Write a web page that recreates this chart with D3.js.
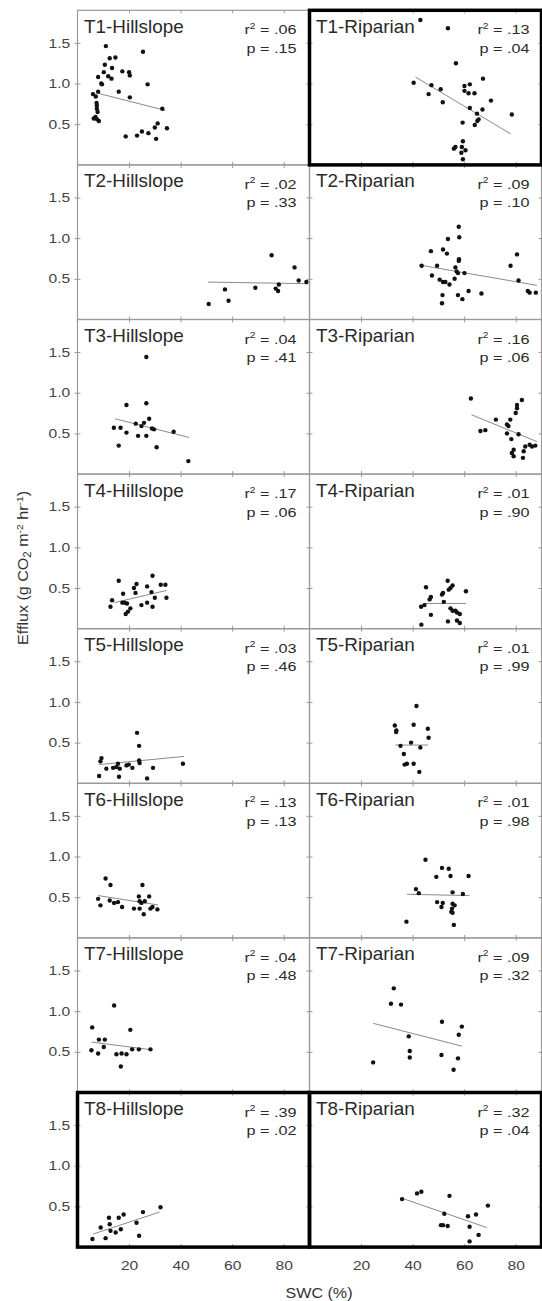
<!DOCTYPE html>
<html><head><meta charset="utf-8">
<script src="https://cdn.jsdelivr.net/npm/d3@7"></script>
<style>html,body{margin:0;padding:0;background:#fff;} svg{display:block;font-family:"Liberation Sans",Arial,Helvetica,sans-serif;}</style>
</head><body><svg id="c" width="542" height="1301"></svg>
<script>
// ---------------- DATA ----------------
const transects = ["T1","T2","T3","T4","T5","T6","T7","T8"];
const sites = ["Hillslope","Riparian"];
const xTicks = [20,40,60,80];
const yTicks = [0.5,1.0,1.5];

// [SWC (%), Efflux] per transect
const hillslopePoints = [
  [[11.0,1.46],[12.5,1.31],[14.7,1.32],[10.6,1.23],[13.4,1.19],[10.2,1.14],[11.9,1.09],[13.2,1.06],[8.0,1.08],[9.2,1.00],[9.5,0.99],[17.4,1.15],[20.0,1.14],[20.3,1.10],[25.4,1.39],[27.2,0.99],[16.0,0.90],[20.3,0.83],[6.0,0.87],[7.1,0.84],[8.0,0.90],[7.4,0.76],[7.5,0.73],[7.5,0.69],[7.8,0.65],[7.0,0.59],[7.6,0.56],[8.3,0.54],[6.3,0.57],[18.7,0.35],[23.1,0.36],[25.0,0.41],[27.5,0.39],[30.0,0.46],[31.1,0.51],[30.5,0.32],[32.9,0.69],[34.7,0.45]],
  [[50.9,0.19],[57.2,0.37],[58.6,0.23],[69.0,0.39],[75.3,0.79],[76.9,0.38],[77.8,0.35],[78.1,0.43],[84.2,0.64],[85.8,0.48],[88.8,0.46]],
  [[26.7,1.44],[19.0,0.85],[26.7,0.87],[14.1,0.57],[16.7,0.57],[19.0,0.51],[22.6,0.62],[24.8,0.59],[25.8,0.63],[27.8,0.68],[28.9,0.56],[29.7,0.55],[23.5,0.47],[26.7,0.47],[37.3,0.52],[16.0,0.35],[30.7,0.33],[43.0,0.16]],
  [[16.0,0.59],[29.1,0.65],[22.9,0.55],[21.9,0.50],[27.0,0.52],[32.3,0.54],[34.1,0.54],[17.7,0.43],[22.5,0.44],[28.7,0.45],[30.0,0.38],[34.5,0.38],[13.4,0.35],[12.8,0.27],[17.4,0.32],[18.3,0.32],[19.2,0.31],[20.5,0.25],[19.6,0.21],[18.7,0.18],[24.8,0.29],[27.0,0.32],[29.1,0.27]],
  [[23.1,0.62],[23.9,0.46],[9.3,0.31],[8.9,0.27],[23.9,0.28],[24.1,0.25],[15.7,0.24],[19.0,0.22],[19.9,0.23],[11.2,0.18],[13.8,0.19],[15.1,0.20],[16.4,0.18],[21.3,0.19],[29.3,0.19],[40.9,0.24],[8.4,0.09],[16.1,0.08],[27.0,0.06]],
  [[10.9,0.73],[12.8,0.65],[25.2,0.65],[23.8,0.51],[27.8,0.51],[8.0,0.48],[12.5,0.46],[14.2,0.43],[15.7,0.44],[24.1,0.45],[24.8,0.43],[26.1,0.45],[8.9,0.40],[17.3,0.38],[21.9,0.36],[24.1,0.36],[28.3,0.36],[29.1,0.38],[31.0,0.35],[25.7,0.29]],
  [[14.2,1.07],[5.7,0.80],[20.5,0.77],[8.3,0.65],[10.6,0.65],[10.2,0.56],[5.4,0.52],[8.0,0.48],[15.1,0.47],[17.1,0.48],[19.0,0.47],[21.2,0.53],[23.8,0.53],[28.3,0.53],[16.8,0.32]],
  [[32.2,0.49],[25.4,0.43],[12.2,0.36],[16.0,0.36],[17.9,0.40],[22.9,0.30],[12.5,0.28],[9.0,0.24],[12.8,0.20],[14.8,0.18],[16.8,0.22],[23.9,0.14],[5.8,0.10],[10.9,0.11]]
];
const riparianPoints = [
  [[43.0,1.78],[53.7,1.68],[56.8,1.25],[40.4,1.01],[47.3,0.98],[46.2,0.87],[50.9,0.93],[51.7,0.77],[60.1,0.97],[62.2,0.99],[60.1,0.91],[61.7,0.88],[64.0,0.88],[67.3,1.06],[70.4,0.79],[62.2,0.70],[67.1,0.68],[65.0,0.63],[65.6,0.56],[65.1,0.54],[64.1,0.49],[59.4,0.52],[78.5,0.62],[59.5,0.29],[56.6,0.22],[56.0,0.20],[59.1,0.22],[60.5,0.18],[58.9,0.15],[59.5,0.07]],
  [[57.9,1.14],[58.1,1.01],[53.7,0.99],[47.1,0.84],[51.8,0.86],[53.3,0.81],[58.0,0.74],[57.9,0.72],[56.6,0.64],[43.5,0.66],[49.5,0.66],[57.1,0.59],[57.6,0.57],[60.1,0.57],[47.5,0.54],[50.5,0.49],[51.8,0.46],[52.7,0.46],[54.3,0.43],[56.3,0.50],[51.6,0.30],[51.4,0.20],[57.6,0.30],[59.3,0.25],[61.7,0.35],[66.7,0.32],[80.5,0.80],[78.0,0.66],[81.1,0.48],[84.7,0.35],[85.4,0.33],[87.8,0.33]],
  [[62.6,0.93],[82.4,0.91],[80.5,0.85],[80.5,0.81],[80.0,0.75],[77.9,0.67],[72.3,0.67],[76.6,0.61],[77.2,0.59],[66.3,0.53],[68.2,0.54],[76.6,0.50],[81.1,0.49],[78.3,0.43],[85.4,0.36],[86.3,0.34],[87.6,0.35],[83.7,0.34],[79.2,0.30],[78.5,0.26],[83.1,0.28],[82.8,0.20],[79.2,0.22]],
  [[53.6,0.59],[55.5,0.53],[54.7,0.50],[54.0,0.48],[45.2,0.51],[51.8,0.44],[51.4,0.42],[60.7,0.46],[47.1,0.39],[46.6,0.36],[44.6,0.29],[43.3,0.27],[52.1,0.33],[54.7,0.25],[55.5,0.22],[56.6,0.22],[58.3,0.18],[57.2,0.20],[47.1,0.17],[53.7,0.09],[57.2,0.10],[58.3,0.07],[43.4,0.05]],
  [[41.5,0.95],[33.1,0.71],[33.7,0.65],[33.6,0.63],[40.4,0.72],[45.9,0.67],[46.2,0.56],[35.3,0.46],[39.4,0.50],[43.0,0.44],[36.6,0.36],[36.9,0.23],[37.8,0.24],[40.4,0.24],[42.6,0.14]],
  [[45.0,0.96],[51.4,0.86],[54.0,0.85],[49.2,0.75],[54.7,0.76],[61.7,0.76],[41.3,0.60],[42.4,0.55],[55.5,0.56],[59.5,0.54],[49.5,0.44],[51.7,0.43],[51.2,0.38],[55.5,0.42],[56.3,0.40],[55.3,0.36],[55.0,0.32],[55.5,0.31],[37.6,0.20],[56.0,0.16]],
  [[32.7,1.28],[31.6,1.09],[35.5,1.08],[51.4,0.87],[59.1,0.81],[57.9,0.71],[38.5,0.69],[38.9,0.51],[51.2,0.46],[38.9,0.43],[57.6,0.42],[24.7,0.37],[55.9,0.28]],
  [[35.9,0.59],[41.7,0.66],[43.4,0.68],[54.3,0.63],[52.3,0.41],[69.2,0.51],[61.5,0.38],[64.6,0.40],[51.0,0.27],[51.8,0.27],[53.6,0.26],[62.1,0.25],[65.6,0.15],[62.1,0.07]]
];
// regression line end points [x1, y1, x2, y2]
const hillslopeFit = [[8.0,0.88,34.0,0.67],[50.6,0.46,89.4,0.44],[14.5,0.68,43.3,0.45],[14.2,0.32,34.5,0.47],[8.4,0.23,41.3,0.33],[8.0,0.52,31.2,0.405],[5.4,0.62,28.7,0.525],[6.0,0.16,31.8,0.43]];
const riparianFit  = [[41.1,1.08,78.1,0.38],[42.6,0.67,88.2,0.42],[62.8,0.73,88.2,0.40],[44.3,0.31,60.7,0.31],[33.3,0.47,46.0,0.47],[37.8,0.536,62.0,0.52],[24.7,0.85,59.1,0.57],[35.9,0.60,68.8,0.24]];
const hillslopeR2 = [".06",".02",".04",".17",".03",".13",".04",".39"];
const hillslopeP  = [".15",".33",".41",".06",".46",".13",".48",".02"];
const riparianR2  = [".13",".09",".16",".01",".01",".01",".09",".32"];
const riparianP   = [".04",".10",".06",".90",".99",".98",".32",".04"];
const highlighted = ["T1-Riparian","T8-Hillslope","T8-Riparian"];

// ---------------- LAYOUT ----------------
const colX = [77.5, 309.5], colW = 232, top0 = 10.3, rowH = 154.6;
const x = d3.scaleLinear().domain([0,90]).range([0,colW]);
const y = d3.scaleLinear().domain([0,1.9]).range([rowH,0]);
const svg = d3.select("#c");
const gridCol = "#9a9a9a";

function stext(g, px, py, sx, size, anchor, fill){
  return g.append("text")
    .attr("transform", `translate(${px},${py}) scale(${sx},1)`)
    .attr("text-anchor", anchor).attr("font-size", size).attr("fill", fill);
}

const thick = [];
transects.forEach((t, r) => {
  sites.forEach((s, c) => {
    const pts = c === 0 ? hillslopePoints[r] : riparianPoints[r];
    const fit = c === 0 ? hillslopeFit[r] : riparianFit[r];
    const r2 = c === 0 ? hillslopeR2[r] : riparianR2[r];
    const p  = c === 0 ? hillslopeP[r]  : riparianP[r];
    const g = svg.append("g").attr("transform", `translate(${colX[c]},${top0 + r*rowH})`);

    g.append("rect").attr("x",0).attr("y",0).attr("width",colW).attr("height",rowH)
      .attr("fill","none").attr("stroke",gridCol).attr("stroke-width",1.2);

    // inward ticks on all edges
    const tickAxes = [
      [d3.axisTop(x).tickValues(xTicks), 0, 0],
      [d3.axisBottom(x).tickValues(xTicks), 0, rowH],
      [d3.axisLeft(y).tickValues(yTicks), 0, 0],
      [d3.axisRight(y).tickValues(yTicks), colW, 0]
    ];
    tickAxes.forEach(([ax, tx, ty]) => {
      const a = g.append("g").attr("transform", `translate(${tx},${ty})`)
        .call(ax.tickSize(-3).tickFormat(""));
      a.select(".domain").remove();
      a.selectAll("line").attr("stroke", gridCol);
    });

    // left axis labels
    if (c === 0) {
      const a = g.append("g").call(d3.axisLeft(y).tickValues(yTicks).tickSize(3).tickPadding(3).tickFormat(d3.format(".1f")));
      a.select(".domain").remove();
      a.selectAll("line").attr("stroke", gridCol);
      a.selectAll("text").attr("font-size", 13).attr("fill", "#444")
        .attr("font-family", '"Liberation Sans",Arial,sans-serif')
        .attr("transform", "scale(1.2,1)");
    }
    // bottom axis labels
    if (r === transects.length - 1) {
      const a = g.append("g").attr("transform", `translate(0,${rowH})`)
        .call(d3.axisBottom(x).tickValues(xTicks).tickSize(0).tickPadding(14));
      a.select(".domain").remove();
      a.selectAll("text").attr("font-size", 13).attr("fill", "#444")
        .attr("font-family", '"Liberation Sans",Arial,sans-serif')
        .each(function(){ const el = d3.select(this); el.attr("transform", null); })
        .attr("transform", "scale(1.2,1)")
        .attr("x", function(){ return 0; });
    }

    // regression line
    g.append("line")
      .attr("x1", x(fit[0])).attr("y1", y(fit[1]))
      .attr("x2", x(fit[2])).attr("y2", y(fit[3]))
      .attr("stroke", "#8a8a8a").attr("stroke-width", 1);

    // points
    g.selectAll("circle.pt").data(pts).join("circle").attr("class","pt")
      .attr("cx", d => x(d[0])).attr("cy", d => y(d[1])).attr("r", 2.2).attr("fill", "#111");

    // title
    stext(g, 6.5, 22.4, 1.08, 17.5, "start", "#2a2a2a").text(`${t}-${s}`);

    // stats
    const rx = colW - (c === 0 ? 13 : 12);
    const st = stext(g, rx, 24, 1.2, 13.5, "end", "#2a2a2a");
    st.append("tspan").text("r");
    st.append("tspan").attr("dy", -5.5).attr("font-size", 8.5).text("2");
    st.append("tspan").attr("dy", 5.5).text(` = ${r2}`);
    stext(g, rx, 42.5, 1.2, 13.5, "end", "#2a2a2a").text(`p = ${p}`);

    if (highlighted.includes(`${t}-${s}`)) thick.push([c, r]);
  });
});

// thick borders for highlighted panels
thick.forEach(([c, r]) => {
  svg.append("rect").attr("x", colX[c]).attr("y", top0 + r*rowH)
    .attr("width", colW).attr("height", rowH)
    .attr("fill","none").attr("stroke","#000").attr("stroke-width",3.5);
});

// axis titles
const yl = svg.append("text").attr("transform","translate(27.5,645) rotate(-90) scale(1.15,1)")
  .attr("font-size", 14).attr("fill", "#333").attr("text-anchor","start");
yl.append("tspan").text("Efflux (g CO");
yl.append("tspan").attr("dy", 3).attr("font-size", 10).text("2");
yl.append("tspan").attr("dy", -3).text(" m");
yl.append("tspan").attr("dy", -5).attr("font-size", 9).text("-2");
yl.append("tspan").attr("dy", 5).text(" hr");
yl.append("tspan").attr("dy", -5).attr("font-size", 9).text("-1");
yl.append("tspan").attr("dy", 5).text(")");

stext(svg, 319, 1297.5, 1.15, 14, "middle", "#333").text("SWC (%)");
</script></body></html>
